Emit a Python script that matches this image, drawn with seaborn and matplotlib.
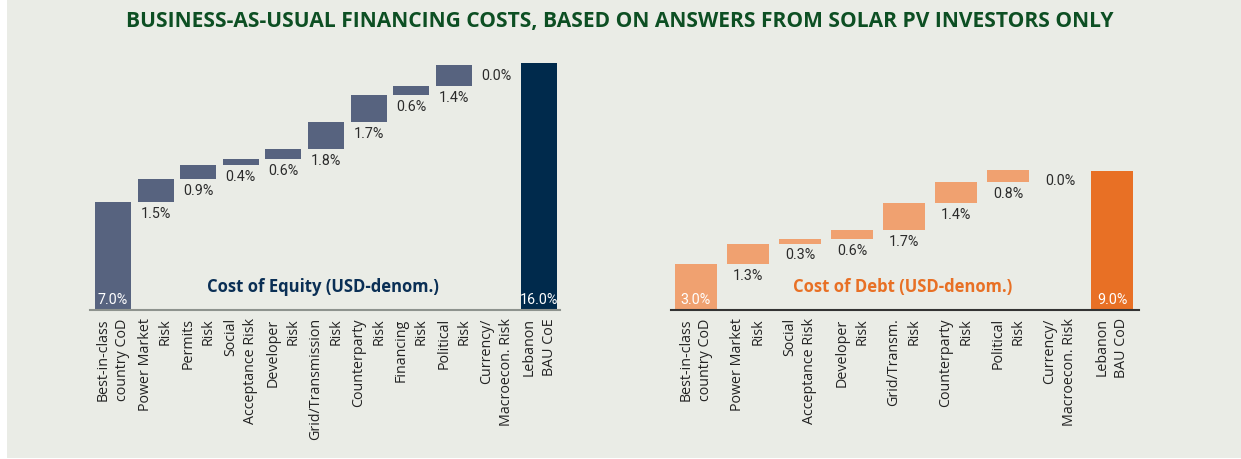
import matplotlib
matplotlib.use("Agg")
import matplotlib.pyplot as plt
import seaborn as sns
import pandas as pd
from matplotlib.patches import Rectangle
from matplotlib import font_manager

# ---------------- data ----------------
equity_labels = ["Best-in-class\ncountry CoD", "Power Market\nRisk", "Permits\nRisk",
                 "Social\nAcceptance Risk", "Developer\nRisk", "Grid/Transmission\nRisk",
                 "Counterparty\nRisk", "Financing\nRisk", "Political\nRisk",
                 "Currency/\nMacroecon. Risk", "Lebanon\nBAU CoE"]
equity_values = [7.0, 1.5, 0.9, 0.4, 0.6, 1.8, 1.7, 0.6, 1.4, 0.0, 16.0]

debt_labels = ["Best-in-class\ncountry CoD", "Power Market\nRisk", "Social\nAcceptance Risk",
               "Developer\nRisk", "Grid/Transm.\nRisk", "Counterparty\nRisk",
               "Political\nRisk", "Currency/\nMacroecon. Risk", "Lebanon\nBAU CoD"]
debt_values = [3.0, 1.3, 0.3, 0.6, 1.7, 1.4, 0.8, 0.0, 9.0]

title_text = "BUSINESS-AS-USUAL FINANCING COSTS, BASED ON ANSWERS FROM SOLAR PV INVESTORS ONLY"
equity_name = "Cost of Equity (USD-denom.)"
debt_name = "Cost of Debt (USD-denom.)"

# ---------------- style ----------------
BG = "#eaece6"
sns.set_theme(style="white")
plt.rcParams["font.family"] = ["Open Sans", "DejaVu Sans"]
available = {f.name for f in font_manager.fontManager.ttflist}
if "Liberation Sans Narrow" in available:
    NARROW, VSIZE = ["Liberation Sans Narrow", "DejaVu Sans"], 10.8
else:
    NARROW, VSIZE = ["Roboto", "DejaVu Sans"], 10.3

fig = plt.figure(figsize=(12.41, 4.59), dpi=100)
fig.patch.set_facecolor("white")
fig.patches.append(Rectangle((7 / 1241, 0.002), 1, 1, transform=fig.transFigure,
                             facecolor=BG, edgecolor="none", zorder=-10))

fig.text(0.4996, 0.954, title_text, ha="center", va="center", fontsize=15.1,
         fontweight="bold", color="#0d4f23")


def waterfall(ax, labels, values, step_color, total_color, width, axis_color,
              name, name_color, xlim):
    n = len(values)
    heights, bottoms = [], []
    cum = 0.0
    for i, v in enumerate(values):
        if i == 0:
            bottoms.append(0.0)
            cum = v
        elif i == n - 1:
            bottoms.append(0.0)
        else:
            bottoms.append(cum)
            cum += v
        heights.append(v)
    df = pd.DataFrame({"cat": labels, "h": heights, "b": bottoms})
    sns.barplot(data=df, x="cat", y="h", bottom=df["b"].values, width=width,
                color=step_color, saturation=1, errorbar=None, ax=ax, zorder=2,
                linewidth=0, edgecolor="none")
    patches = ax.patches
    patches[0].set_facecolor(step_color)
    patches[-1].set_facecolor(total_color)

    for i, (h, b) in enumerate(zip(heights, bottoms)):
        if i == 0 or i == n - 1:
            ax.annotate(f"{h:.1f}%", (i, 0), xytext=(0, 2), textcoords="offset points",
                        ha="center", va="bottom", color="white", fontsize=VSIZE,
                        family=NARROW, zorder=3)
        else:
            ax.annotate(f"{h:.1f}%", (i, b), xytext=(0, -3.5), textcoords="offset points",
                        ha="center", va="top", color="#2b2b2b", fontsize=VSIZE,
                        family=NARROW, zorder=3)

    ax.set_facecolor("none")
    ax.set_ylim(0, 16)
    ax.set_xlim(*xlim)
    ax.set_xlabel("")
    ax.set_ylabel("")
    ax.set_yticks([])
    for s in ["left", "right", "top"]:
        ax.spines[s].set_visible(False)
    ax.spines["bottom"].set_color(axis_color)
    ax.spines["bottom"].set_linewidth(1.5)
    ax.spines["bottom"].set_zorder(4)
    ax.tick_params(axis="x", length=0, pad=6)
    ax.set_xticks(range(n))
    ax.set_xticklabels(labels, rotation=90, ha="center", va="top",
                       multialignment="right", fontsize=10.3, color="#222222",
                       linespacing=1.45)
    ax.text(0.495, 0.093, name, transform=ax.transAxes, ha="center", va="center",
            fontsize=12, fontweight="bold", color=name_color)


ax1 = fig.add_axes([90 / 1241, 149 / 459, 470 / 1241, 247 / 459])
waterfall(ax1, equity_labels, equity_values, "#57637f", "#002a4c", 0.845,
          "#8e938e", equity_name, "#0a2f55", (-0.54, 10.49))

ax2 = fig.add_axes([671 / 1241, 149 / 459, 468 / 1241, 247 / 459])
waterfall(ax2, debt_labels, debt_values, "#f0a170", "#e87025", 0.81,
          "#333333", debt_name, "#e87025", (-0.48, 8.52))

fig.savefig("out.png", dpi=100, facecolor=fig.get_facecolor())
